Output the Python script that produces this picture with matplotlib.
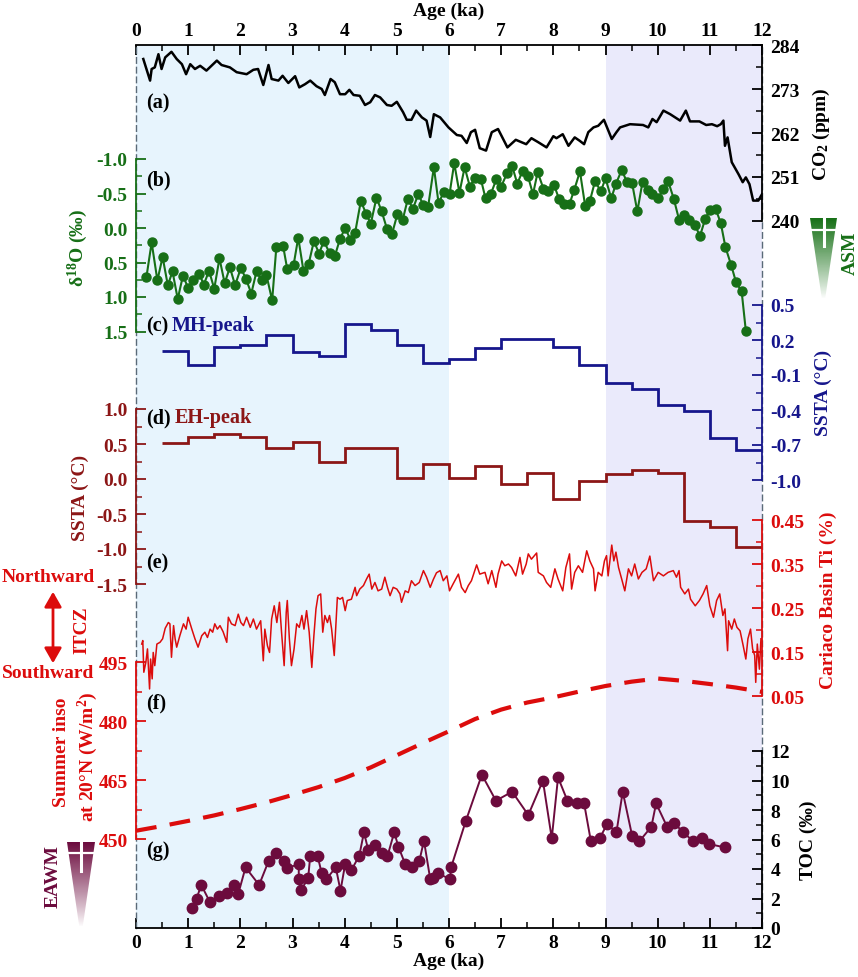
import matplotlib.pyplot as plt
import numpy as np
from matplotlib.patches import Polygon, FancyArrowPatch
from matplotlib.ticker import FixedLocator, FormatStrFormatter, MultipleLocator

plt.rcParams['font.family'] = ['Liberation Serif', 'DejaVu Serif']
plt.rcParams['font.weight'] = 'bold'
plt.rcParams['axes.unicode_minus'] = False
plt.rcParams['mathtext.fontset'] = 'custom'
plt.rcParams['mathtext.rm'] = 'Liberation Serif:bold'
plt.rcParams['mathtext.it'] = 'Liberation Serif:bold:italic'
plt.rcParams['mathtext.bf'] = 'Liberation Serif:bold'

# (a) CO2 (ppm)
co2_age = [0.14, 0.27, 0.30, 0.36, 0.43, 0.49, 0.56, 0.68, 0.78, 0.88, 0.96, 1.04, 1.13, 1.23,
           1.35, 1.55, 1.64, 1.80, 1.93, 2.12, 2.25, 2.34, 2.44, 2.54, 2.60, 2.73, 2.81, 2.92,
           3.05, 3.13, 3.24, 3.34, 3.46, 3.56, 3.62, 3.73, 3.81, 3.91, 4.01, 4.09, 4.17, 4.29,
           4.39, 4.49, 4.58, 4.68, 4.81, 4.90, 5.00, 5.12, 5.19, 5.28, 5.37, 5.48, 5.57, 5.64,
           5.71, 5.83, 5.99, 6.15, 6.24, 6.34, 6.42, 6.50, 6.59, 6.71, 6.82, 6.94, 7.12, 7.28,
           7.48, 7.58, 7.71, 7.87, 8.00, 8.06, 8.18, 8.29, 8.41, 8.50, 8.59, 8.67, 8.77, 8.86,
           8.97, 9.12, 9.21, 9.28, 9.47, 9.72, 9.82, 9.90, 9.98, 10.11, 10.24, 10.43, 10.54,
           10.62, 10.80, 10.93, 11.04, 11.14, 11.21, 11.26, 11.29, 11.34, 11.42, 11.55, 11.63,
           11.69, 11.76, 11.83, 11.93, 12.0]
co2_val = [280.5, 275.1, 278.0, 278.4, 281.7, 278.0, 280.9, 282.3, 280.5, 279.2, 276.7, 279.2,
           278.0, 278.8, 277.6, 280.1, 279.0, 278.4, 277.2, 276.7, 277.8, 278.0, 274.0, 279.0,
           275.5, 275.1, 276.3, 274.5, 276.2, 273.4, 274.2, 275.1, 273.7, 273.0, 271.5, 275.5,
           274.7, 271.7, 271.7, 272.8, 271.5, 271.3, 269.0, 269.7, 271.5, 270.9, 269.0, 268.8,
           269.8, 267.2, 265.3, 265.3, 267.6, 265.9, 265.1, 261.0, 266.7, 265.9, 263.4, 261.5,
           261.3, 259.5, 262.2, 262.8, 258.2, 257.6, 262.2, 263.0, 258.4, 260.3, 259.2, 260.7,
           259.7, 258.4, 261.2, 260.7, 261.7, 258.8, 260.9, 260.1, 259.2, 262.2, 263.4, 263.8,
           265.3, 260.5, 262.2, 263.4, 264.2, 264.0, 263.4, 265.5, 264.7, 267.6, 266.7, 265.1,
           267.6, 264.9, 264.9, 264.0, 264.2, 263.7, 264.2, 265.1, 258.8, 260.9, 254.7, 251.7,
           249.7, 250.9, 249.2, 245.1, 245.1, 246.7]

# (b) d18O (permil)
d18o_age = [0.20, 0.30, 0.41, 0.51, 0.61, 0.70, 0.80, 0.90, 1.00, 1.10, 1.21, 1.30, 1.40, 1.50,
            1.60, 1.70, 1.80, 1.90, 2.01, 2.11, 2.21, 2.31, 2.41, 2.50, 2.61, 2.69, 2.82, 2.90,
            3.02, 3.11, 3.21, 3.31, 3.41, 3.51, 3.60, 3.71, 3.81, 3.91, 4.01, 4.11, 4.20, 4.31,
            4.41, 4.50, 4.61, 4.71, 4.81, 4.91, 5.01, 5.11, 5.21, 5.31, 5.41, 5.51, 5.60, 5.71,
            5.80, 5.90, 6.01, 6.10, 6.20, 6.30, 6.40, 6.50, 6.61, 6.70, 6.80, 6.91, 7.00, 7.11,
            7.21, 7.31, 7.41, 7.51, 7.61, 7.70, 7.81, 7.90, 8.01, 8.11, 8.20, 8.31, 8.40, 8.51,
            8.61, 8.70, 8.80, 8.91, 9.00, 9.11, 9.20, 9.31, 9.41, 9.51, 9.61, 9.71, 9.81, 9.90,
            10.01, 10.11, 10.20, 10.31, 10.41, 10.50, 10.61, 10.72, 10.81, 10.91, 11.00, 11.11,
            11.21, 11.30, 11.41, 11.50, 11.61, 11.69]
d18o_val = [0.71, 0.21, 0.76, 0.42, 0.83, 0.63, 1.03, 0.69, 0.87, 0.75, 0.66, 0.82, 0.62, 0.88,
            0.44, 0.80, 0.57, 0.83, 0.58, 0.74, 0.95, 0.63, 0.76, 0.68, 1.05, 0.28, 0.26, 0.60,
            0.54, 0.14, 0.62, 0.52, 0.19, 0.37, 0.19, 0.36, 0.41, 0.16, 0.00, 0.17, 0.07, -0.39,
            -0.21, -0.06, -0.44, -0.24, 0.01, 0.08, -0.20, -0.11, -0.42, -0.28, -0.49, -0.33,
            -0.31, -0.88, -0.36, -0.52, -0.49, -0.94, -0.51, -0.88, -0.60, -0.73, -0.71, -0.43,
            -0.49, -0.71, -0.60, -0.79, -0.90, -0.64, -0.83, -0.76, -0.49, -0.81, -0.57, -0.54,
            -0.63, -0.42, -0.35, -0.35, -0.55, -0.82, -0.32, -0.39, -0.68, -0.53, -0.72, -0.43,
            -0.64, -0.84, -0.67, -0.65, -0.24, -0.67, -0.55, -0.50, -0.43, -0.57, -0.68, -0.42,
            -0.12, -0.19, -0.11, -0.04, 0.12, -0.13, -0.26, -0.28, -0.07, 0.28, 0.54, 0.78,
            0.92, 1.49]

# (c), (d) SSTA step records, 0.5 ka bins
bin_edges = [0.5, 1.0, 1.5, 2.0, 2.5, 3.0, 3.5, 4.0, 4.5, 5.0, 5.5, 6.0, 6.5, 7.0, 7.5, 8.0,
             8.5, 9.0, 9.5, 10.0, 10.5, 11.0, 11.5, 12.0]
mh_ssta = [0.11, -0.01, 0.14, 0.16, 0.24, 0.10, 0.06, 0.34, 0.29, 0.16, 0.00, 0.04, 0.13,
           0.21, 0.21, 0.14, -0.01, -0.17, -0.22, -0.36, -0.41, -0.64, -0.74]
eh_ssta = [0.51, 0.60, 0.64, 0.60, 0.45, 0.53, 0.24, 0.45, 0.44, 0.02, 0.21, 0.01, 0.19,
           -0.07, 0.08, -0.29, -0.03, 0.07, 0.13, 0.09, -0.60, -0.69, -0.97]

# (e) Cariaco Basin Ti (%)
ti_age = [0.11, 0.13, 0.15, 0.19, 0.22, 0.26, 0.28, 0.31, 0.33, 0.36, 0.40, 0.46, 0.51, 0.56,
          0.62, 0.65, 0.68, 0.72, 0.75, 0.78, 0.84, 0.91, 0.96, 1.00, 1.07, 1.13, 1.19, 1.26,
          1.32, 1.37, 1.42, 1.47, 1.51, 1.56, 1.61, 1.67, 1.74, 1.77, 1.83, 1.90, 1.96, 2.01,
          2.06, 2.12, 2.19, 2.25, 2.31, 2.39, 2.44, 2.47, 2.52, 2.56, 2.60, 2.65, 2.70, 2.75,
          2.79, 2.84, 2.88, 2.90, 2.94, 2.98, 3.03, 3.08, 3.13, 3.18, 3.22, 3.27, 3.32, 3.37,
          3.41, 3.45, 3.49, 3.54, 3.58, 3.62, 3.67, 3.71, 3.75, 3.80, 3.83, 3.86, 3.91, 3.96,
          4.01, 4.05, 4.13, 4.20, 4.23, 4.29, 4.36, 4.42, 4.47, 4.52, 4.58, 4.64, 4.71, 4.77,
          4.82, 4.87, 4.93, 5.00, 5.06, 5.09, 5.16, 5.22, 5.28, 5.35, 5.43, 5.51, 5.57, 5.64,
          5.70, 5.76, 5.83, 5.89, 5.96, 6.01, 6.08, 6.18, 6.24, 6.31, 6.37, 6.43, 6.53, 6.59,
          6.69, 6.75, 6.82, 6.90, 6.94, 7.01, 7.07, 7.14, 7.20, 7.28, 7.36, 7.41, 7.48, 7.52,
          7.58, 7.68, 7.71, 7.81, 7.87, 7.95, 8.03, 8.09, 8.18, 8.24, 8.31, 8.35, 8.41, 8.48,
          8.56, 8.64, 8.70, 8.77, 8.80, 8.86, 8.93, 8.98, 9.02, 9.05, 9.12, 9.16, 9.20, 9.25,
          9.31, 9.37, 9.44, 9.50, 9.56, 9.63, 9.70, 9.78, 9.85, 9.92, 10.01, 10.11, 10.20,
          10.30, 10.36, 10.41, 10.44, 10.52, 10.59, 10.63, 10.72, 10.80, 10.87, 10.94, 11.00,
          11.07, 11.13, 11.19, 11.25, 11.29, 11.34, 11.36, 11.42, 11.47, 11.52, 11.58, 11.64,
          11.69, 11.73, 11.78, 11.82, 11.86, 11.88, 11.91, 11.95, 11.98]
ti_val = [0.168, 0.176, 0.104, 0.127, 0.157, 0.066, 0.134, 0.089, 0.149, 0.119, 0.168, 0.172,
          0.180, 0.204, 0.217, 0.214, 0.138, 0.210, 0.180, 0.161, 0.187, 0.214, 0.202, 0.229,
          0.202, 0.180, 0.161, 0.187, 0.195, 0.183, 0.202, 0.195, 0.214, 0.202, 0.210, 0.196,
          0.172, 0.229, 0.214, 0.210, 0.236, 0.217, 0.210, 0.229, 0.206, 0.225, 0.202, 0.221,
          0.130, 0.202, 0.164, 0.149, 0.225, 0.255, 0.217, 0.263, 0.195, 0.119, 0.240, 0.267,
          0.180, 0.119, 0.157, 0.214, 0.206, 0.233, 0.202, 0.244, 0.195, 0.115, 0.187, 0.248,
          0.278, 0.282, 0.195, 0.233, 0.217, 0.233, 0.202, 0.142, 0.206, 0.274, 0.270, 0.274,
          0.244, 0.267, 0.270, 0.297, 0.278, 0.293, 0.301, 0.316, 0.327, 0.293, 0.308, 0.289,
          0.293, 0.320, 0.297, 0.278, 0.297, 0.293, 0.282, 0.263, 0.289, 0.285, 0.312, 0.301,
          0.308, 0.335, 0.320, 0.297, 0.315, 0.330, 0.335, 0.312, 0.323, 0.289, 0.305, 0.327,
          0.297, 0.285, 0.301, 0.312, 0.348, 0.327, 0.331, 0.305, 0.335, 0.297, 0.327, 0.357,
          0.346, 0.350, 0.342, 0.323, 0.365, 0.327, 0.350, 0.373, 0.361, 0.375, 0.331, 0.323,
          0.308, 0.297, 0.339, 0.316, 0.289, 0.342, 0.373, 0.293, 0.331, 0.346, 0.331, 0.380,
          0.357, 0.339, 0.289, 0.331, 0.323, 0.357, 0.369, 0.323, 0.393, 0.357, 0.377, 0.342,
          0.316, 0.289, 0.339, 0.323, 0.350, 0.316, 0.331, 0.339, 0.368, 0.312, 0.331, 0.323,
          0.331, 0.335, 0.320, 0.335, 0.297, 0.282, 0.293, 0.270, 0.255, 0.267, 0.282, 0.301,
          0.255, 0.229, 0.267, 0.282, 0.233, 0.248, 0.153, 0.221, 0.202, 0.225, 0.206, 0.198,
          0.164, 0.134, 0.180, 0.202, 0.157, 0.142, 0.081, 0.168, 0.111, 0.180]

# (f) summer insolation at 20N (W/m2)
ins_age = [0.0, 0.5, 1.0, 1.5, 2.0, 2.5, 3.0, 3.5, 4.0, 4.5, 5.0, 5.5, 6.0, 6.5, 7.0, 7.5,
           8.0, 8.5, 9.0, 9.5, 10.0, 10.5, 11.0, 11.5, 12.0]
ins_val = [452.1, 453.3, 454.6, 456.0, 457.6, 459.3, 461.2, 463.2, 465.5, 468.2, 471.3, 474.4,
           477.4, 480.5, 482.9, 484.7, 486.0, 487.5, 488.9, 490.0, 490.8, 490.2, 489.4, 488.5,
           487.4]

# (g) TOC (permil)
toc_age = [1.07, 1.16, 1.25, 1.42, 1.60, 1.74, 1.88, 1.96, 2.10, 2.36, 2.54, 2.68, 2.84, 2.90,
           3.12, 3.12, 3.16, 3.30, 3.34, 3.48, 3.56, 3.65, 3.83, 3.92, 4.01, 4.13, 4.28, 4.37,
           4.45, 4.59, 4.71, 4.82, 4.95, 5.03, 5.16, 5.30, 5.43, 5.52, 5.64, 5.69, 5.78, 6.02,
           6.04, 6.32, 6.63, 6.90, 7.21, 7.52, 7.80, 7.97, 8.09, 8.27, 8.45, 8.59, 8.72, 8.89,
           9.03, 9.21, 9.33, 9.51, 9.65, 9.88, 9.97, 10.18, 10.32, 10.49, 10.68, 10.85, 10.99,
           11.29]
toc_val = [1.36, 1.97, 2.92, 1.74, 2.15, 2.35, 2.92, 2.31, 4.11, 2.92, 4.52, 5.08, 4.54, 4.09,
           4.31, 3.32, 2.55, 3.37, 4.90, 4.90, 3.71, 3.32, 4.11, 2.53, 4.34, 3.93, 4.90, 6.49,
           5.31, 5.65, 5.08, 4.86, 6.49, 5.51, 4.34, 4.11, 4.52, 5.92, 3.32, 3.37, 3.71, 3.32,
           4.11, 7.23, 10.39, 8.63, 9.24, 7.66, 9.99, 6.08, 10.21, 8.63, 8.45, 8.45, 5.88, 6.08,
           7.05, 6.49, 9.24, 6.26, 5.88, 6.87, 8.45, 6.87, 7.10, 6.49, 5.88, 6.08, 5.69, 5.46]

GREEN = '#176f17'
BLUE = '#16168c'
DRED = '#8c1616'
RED = '#dc0c0c'
MAROON = '#6c0b3d'
FS = 14

W, H = 858, 978
L, R, T, B = 136, 762, 46, 929


def fx(px):
    return px / W


def fy(py):
    return 1 - py / H


fig = plt.figure(figsize=(W / 100, H / 100), dpi=100)
rect = [fx(L), fy(B), (R - L) / W, (B - T) / H]

ax0 = fig.add_axes(rect)
ax0.set_xlim(0, 12)
ax0.set_ylim(0, 1)
ax0.axvspan(0, 6, color='#e7f4fd', lw=0, zorder=0)
ax0.axvspan(9, 12, color='#eaeafb', lw=0, zorder=0)
ax0.set_yticks([])
ax0.xaxis.set_major_locator(MultipleLocator(1))
ax0.xaxis.set_minor_locator(MultipleLocator(0.5))
ax0.tick_params(axis='x', which='both', direction='in', top=True, labeltop=True,
                labelsize=FS, pad=4)
ax0.tick_params(axis='x', which='major', length=7, width=1.3)
ax0.tick_params(axis='x', which='minor', length=4, width=1.1)
for s in ['top', 'bottom']:
    ax0.spines[s].set_linewidth(1.3)
for s in ['left', 'right']:
    ax0.spines[s].set_linestyle((0, (4, 3)))
    ax0.spines[s].set_color('#5a6a78')
    ax0.spines[s].set_linewidth(1.0)
ax0.set_xlabel('Age (ka)', fontsize=FS, fontweight='bold', labelpad=1)
fig.text(fx(449), fy(11), 'Age (ka)', ha='center', va='center', fontsize=FS)


def layer(side, color, v1, p1, v2, p2, lo, hi, major, minor, fmt):
    ax = fig.add_axes(rect)
    ax.patch.set_visible(False)
    ax.set_xlim(0, 12)
    k = (v2 - v1) / (p2 - p1)
    ax.set_ylim(v1 + (B - p1) * k, v1 + (T - p1) * k)
    for s in ax.spines.values():
        s.set_visible(False)
    sp = ax.spines[side]
    sp.set_visible(True)
    sp.set_bounds(lo, hi)
    sp.set_color(color)
    sp.set_linewidth(1.3)
    ax.get_xaxis().set_visible(False)
    ax.yaxis.set_ticks_position(side)
    ax.yaxis.set_major_locator(FixedLocator(major))
    ax.yaxis.set_minor_locator(FixedLocator(minor))
    ax.yaxis.set_major_formatter(FormatStrFormatter(fmt))
    ax.tick_params(axis='y', which='both', direction='in', colors=color, labelsize=FS, pad=6)
    ax.tick_params(axis='y', which='major', length=7, width=1.3)
    ax.tick_params(axis='y', which='minor', length=4, width=1.1)
    return ax


# (a) CO2
ax_a = layer('right', 'black', 284, 46, 240, 222, 240, 284,
             [240, 251, 262, 273, 284], [245.5, 256.5, 267.5, 278.5], '%d')
ax_a.plot(co2_age, co2_val, color='black', lw=1.8)

# (b) d18O, inverted
ax_b = layer('left', GREEN, 0.0, 229, 1.0, 298, -1.0, 1.5,
             [-1.0, -0.5, 0.0, 0.5, 1.0, 1.5], [-0.75, -0.25, 0.25, 0.75, 1.25], '%.1f')
ax_b.plot(d18o_age, d18o_val, color=GREEN, lw=1.5, marker='o', ms=6.5)

# (c) MH-peak SSTA
ax_c = layer('right', BLUE, 0.2, 341, -0.1, 376, -1.0, 0.5,
             [-1.0, -0.7, -0.4, -0.1, 0.2, 0.5], [-0.85, -0.55, -0.25, 0.05, 0.35], '%.1f')
ax_c.stairs(mh_ssta, bin_edges, baseline=None, color=BLUE, lw=2)

# (d) EH-peak SSTA
ax_d = layer('left', DRED, 0.5, 445, 0.0, 480, -1.5, 1.0,
             [-1.5, -1.0, -0.5, 0.0, 0.5, 1.0], [-1.25, -0.75, -0.25, 0.25, 0.75], '%.1f')
ax_d.stairs(eh_ssta, bin_edges, baseline=None, color=DRED, lw=2)

# (e) Cariaco Ti
ax_e = layer('right', RED, 0.45, 521, 0.05, 697, 0.05, 0.45,
             [0.05, 0.15, 0.25, 0.35, 0.45], [0.10, 0.20, 0.30, 0.40], '%.2f')
ax_e.plot(ti_age, ti_val, color=RED, lw=1.1)

# (f) insolation
ax_f = layer('left', RED, 495, 663, 450, 840, 450, 495,
             [450, 465, 480, 495], [457.5, 472.5, 487.5], '%d')
ax_f.plot(ins_age, ins_val, color=RED, lw=3, dashes=(5, 3.2))

# (g) TOC
ax_g = layer('right', 'black', 12, 752, 0, 929, 0, 12,
             [0, 2, 4, 6, 8, 10, 12], [1, 3, 5, 7, 9, 11], '%d')
ax_g.plot(toc_age, toc_val, color=MAROON, lw=1.4, marker='o', ms=7.5)

# panel labels
for lab, py in [('(a)', 103), ('(b)', 180), ('(c)', 326), ('(d)', 418), ('(e)', 563),
                ('(f)', 703), ('(g)', 851)]:
    fig.text(fx(146), fy(py), lab, ha='left', va='center', fontsize=FS + 0.5)
fig.text(fx(172), fy(326), 'MH-peak', ha='left', va='center', fontsize=FS + 0.5, color=BLUE)
fig.text(fx(175), fy(418), 'EH-peak', ha='left', va='center', fontsize=FS + 0.5, color=DRED)

# axis titles
fig.text(fx(78), fy(248), 'δ$^{18}$O (‰)', rotation=90, ha='center', va='center',
         fontsize=FS, color=GREEN)
fig.text(fx(80), fy(498), 'SSTA (°C)', rotation=90, ha='center', va='center',
         fontsize=FS, color=DRED)
fig.text(fx(62), fy(752), 'Summer inso', rotation=90, ha='center', va='center',
         fontsize=FS, color=RED)
fig.text(fx(88), fy(757), 'at 20°N (W/m$^2$)', rotation=90, ha='center', va='center',
         fontsize=FS, color=RED)
fig.text(fx(821), fy(134), 'CO$_2$ (ppm)', rotation=90, ha='center', va='center',
         fontsize=FS, color='black')
fig.text(fx(823), fy(393), 'SSTA (°C)', rotation=90, ha='center', va='center',
         fontsize=FS, color=BLUE)
fig.text(fx(828), fy(600), 'Cariaco Basin Ti (%)', rotation=90, ha='center', va='center',
         fontsize=FS, color=RED)
fig.text(fx(808), fy(840), 'TOC (‰)', rotation=90, ha='center', va='center',
         fontsize=FS, color='black')

# ITCZ annotation
fig.text(fx(48), fy(578), 'Northward', ha='center', va='center', fontsize=FS, color=RED)
fig.text(fx(48), fy(674), 'Southward', ha='center', va='center', fontsize=FS, color=RED)
fig.text(fx(82), fy(630), 'ITCZ', rotation=90, ha='center', va='center', fontsize=FS,
         color=RED)
fig.patches.append(FancyArrowPatch(
    (fx(53), fy(667)), (fx(53), fy(590)), transform=fig.transFigure, figure=fig,
    arrowstyle='<|-|>,head_length=7,head_width=4', color=RED, lw=2.0, mutation_scale=1.3))


def icon(x0, y0, x1, y1, rgb, hline, vend):
    ia = fig.add_axes([fx(x0), fy(y1), (x1 - x0) / W, (y1 - y0) / H])
    ia.set_xlim(0, 1)
    ia.set_ylim(0, 1)
    ia.axis('off')
    grad = np.zeros((100, 2, 4))
    grad[..., :3] = rgb
    grad[..., 3] = (np.linspace(0, 1, 100) ** 0.9)[:, None]
    im = ia.imshow(grad, extent=[0, 1, 0, 1], origin='lower', aspect='auto')
    poly = Polygon([(0, 1), (1, 1), (0.56, 0), (0.44, 0)], closed=True,
                   facecolor='none', edgecolor='none', transform=ia.transData)
    ia.add_patch(poly)
    im.set_clip_path(poly)
    ia.plot([0, 1], [hline, hline], color='white', lw=1.6)
    ia.plot([0.5, 0.5], [vend, 1.02], color='white', lw=2.2)


icon(810, 219, 837, 300, (0.09, 0.44, 0.09), 0.85, 0.66)
fig.text(fx(850), fy(253), 'ASM', rotation=90, ha='center', va='center', fontsize=FS,
         color=GREEN)
icon(67, 843, 95, 928, (0.42, 0.04, 0.24), 0.87, 0.66)
fig.text(fx(53), fy(877), 'EAWM', rotation=90, ha='center', va='center', fontsize=FS,
         color=MAROON)

fig.savefig('out.png', dpi=100)
